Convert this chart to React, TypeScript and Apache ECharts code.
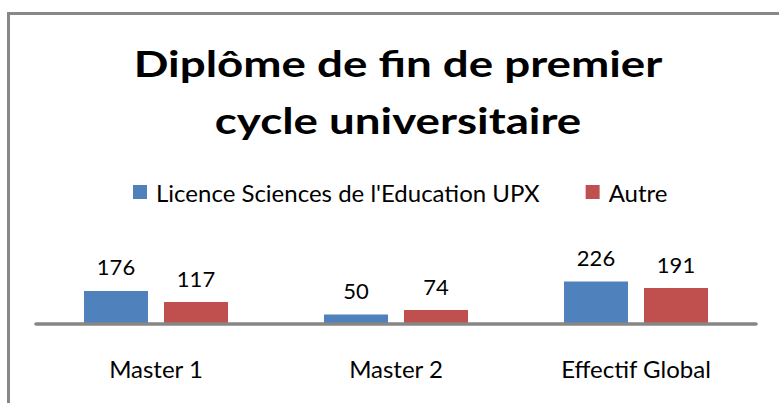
import React, { useEffect, useRef } from "react";
import * as echarts from "echarts";

const categories = ["Master 1", "Master 2", "Effectif Global"];
const seriesNames = ["Licence Sciences de l'Education UPX", "Autre"];
const licenceValues = [176, 50, 226];
const autreValues = [117, 74, 191];
const titleText = "Diplôme de fin de premier\ncycle universitaire";

const FONT = "Lato, 'Open Sans', sans-serif";

export default function App() {
  const ref = useRef<HTMLDivElement>(null);
  useEffect(() => {
    if (!ref.current) return;
    const chart = echarts.init(ref.current, null, { renderer: "svg" });
    const labelStyle = {
      show: true,
      position: "top",
      distance: 13,
      fontFamily: FONT,
      fontSize: 22,
      color: "#000000",
    };
    chart.setOption({
      animation: false,
      backgroundColor: "#ffffff",
      textStyle: { fontFamily: FONT },
      legend: {
        left: 133,
        top: 180,
        padding: 0,
        itemWidth: 14,
        itemHeight: 14,
        itemGap: 46,
        icon: "rect",
        data: seriesNames,
        textStyle: {
          fontFamily: FONT,
          fontSize: 24,
          color: "#000000",
          padding: [0, 0, 0, 4],
          width: 386,
        },
      },
      graphic: [
        {
          type: "text",
          x: 398,
          y: 35,
          scaleX: 1.27,
          style: {
            text: titleText,
            fontFamily: FONT,
            fontWeight: "bold",
            fontSize: 36,
            lineHeight: 57,
            fill: "#000000",
            align: "center",
            verticalAlign: "top",
          },
        },
        {
          type: "rect",
          shape: { x: 8.5, y: 13.5, width: 900, height: 600 },
          style: { fill: "none", stroke: "#888888", lineWidth: 3 },
          z: 10,
        },
      ],
      grid: { left: 36, right: 23, top: 277, bottom: 79 },
      xAxis: {
        type: "category",
        data: categories,
        z: 5,
        axisLine: { show: true, lineStyle: { color: "#868686", width: 3.5 } },
        axisTick: { show: false },
        axisLabel: {
          margin: 32,
          fontFamily: FONT,
          fontSize: 24,
          color: "#000000",
        },
      },
      yAxis: {
        type: "value",
        min: 0,
        max: 250,
        show: false,
        splitLine: { show: false },
      },
      series: [
        {
          name: seriesNames[0],
          type: "bar",
          data: licenceValues,
          barWidth: 64,
          barGap: "25%",
          itemStyle: { color: "#4F81BD" },
          label: labelStyle,
        },
        {
          name: seriesNames[1],
          type: "bar",
          data: autreValues,
          barWidth: 64,
          barGap: "25%",
          itemStyle: { color: "#C0504D" },
          label: labelStyle,
        },
      ],
    });
    return () => chart.dispose();
  }, []);
  return (
    <div
      ref={ref}
      style={{ position: "absolute", left: 0, top: 0, width: 779, height: 403, background: "#fff" }}
    />
  );
}
